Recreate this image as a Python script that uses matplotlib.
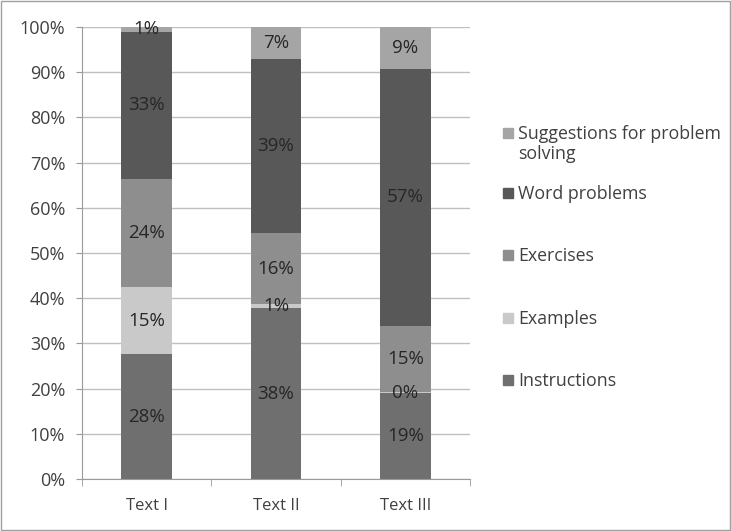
import numpy as np
import matplotlib.pyplot as plt
from matplotlib.patches import Rectangle

texts = ['Text I', 'Text II', 'Text III']
series = ['Instructions', 'Examples', 'Exercises', 'Word problems',
          'Suggestions for problem\nsolving']
instructions = [27.6, 37.8, 19.0]
examples = [14.9, 0.9, 0.2]
exercises = [23.8, 15.7, 14.6]
word_problems = [32.7, 38.5, 57.0]
suggestions = [1.0, 7.1, 9.2]
labels = [[28, 38, 19], [15, 1, 0], [24, 16, 15], [33, 39, 57], [1, 7, 9]]

colors = ['#6f6f6f', '#c9c9c9', '#8e8e8e', '#585858', '#a5a5a5']
values = [instructions, examples, exercises, word_problems, suggestions]

plt.rcParams['font.family'] = ['Open Sans', 'DejaVu Sans']

W, H = 731, 531
fig = plt.figure(figsize=(7.31, 5.31), dpi=100)
ax = fig.add_axes([0.112, 0.098, 0.531, 0.851])

x = np.arange(len(texts))
bottom = np.zeros(len(texts))
for vals, col, name, labs in zip(values, colors, series, labels):
    ax.bar(x, vals, 0.39, bottom=bottom, color=col, label=name, zorder=2)
    for xi, v, bt, lb in zip(x, vals, bottom, labs):
        ax.text(xi, bt + v / 2, f'{lb}%', ha='center', va='center',
                fontsize=13.5, color='#262626', zorder=3)
    bottom += np.array(vals)

ax.set_xlim(-0.5, 2.5)
ax.set_ylim(0, 100)
ax.set_yticks(np.arange(0, 101, 10))
ax.set_yticklabels([f'{t}%' for t in range(0, 101, 10)])
ax.set_xticks(x)
ax.set_xticklabels(texts)
ax.set_xticks([-0.5, 0.5, 1.5, 2.5], minor=True)
ax.tick_params(axis='x', which='major', length=0, pad=14, labelsize=12, colors='#404040')
ax.tick_params(axis='x', which='minor', length=5, color='#9a9a9a')
ax.tick_params(axis='y', length=4, pad=8, color='#9a9a9a', labelsize=13, colors='#404040')
ax.grid(axis='y', color='#c0c0c0', linewidth=1, zorder=0)
for s in ['top', 'right']:
    ax.spines[s].set_visible(False)
ax.spines['left'].set_color('#9a9a9a')
ax.spines['bottom'].set_color('#9a9a9a')

# legend, laid out by hand like the Excel one (top entry first)
leg_y = [380, 318, 255, 193, 133]
for name, col, yy in zip(series, colors, leg_y):
    fig.patches.append(Rectangle((503 / W, 1 - (yy + 5) / H), 10 / W, 10 / H,
                                 transform=fig.transFigure, color=col))
    fig.text(518 / W, 1 - (yy - 8) / H, name, ha='left', va='top',
             fontsize=12.8, color='#404040', linespacing=1.15)

fig.patches.append(Rectangle((0.002, 0.002), 0.996, 0.996, transform=fig.transFigure,
                             fill=False, edgecolor='#a0a0a0', linewidth=1))

fig.savefig('out.png', dpi=100)
